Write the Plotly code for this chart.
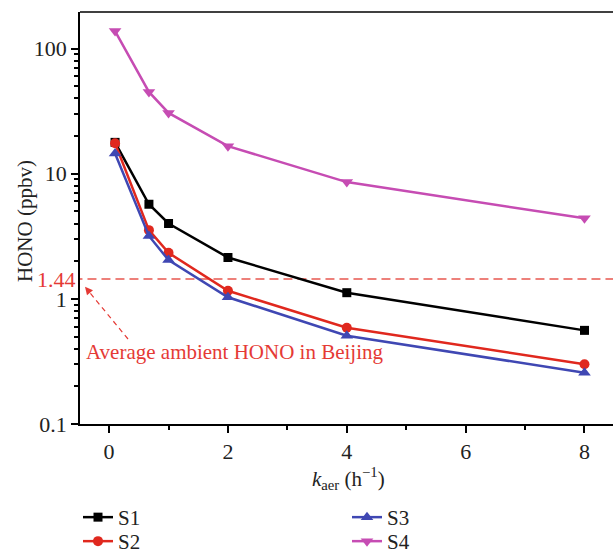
import plotly.graph_objects as go

k_aer = [0.1, 0.67, 1, 2, 4, 8]
s1 = [17.8, 5.7, 4.0, 2.14, 1.12, 0.56]
s2 = [17.5, 3.54, 2.33, 1.16, 0.587, 0.30]
s3 = [14.5, 3.18, 2.04, 1.03, 0.507, 0.257]
s4 = [138, 45, 30.6, 16.6, 8.57, 4.4]
ambient = 1.44

FONT = "Liberation Serif"
RED = "#e53a35"

W, H = 613, 552
L, R, T, B = 80, 0, 12, 128
pw, ph = W - L - R, H - T - B

# name, values, colour, symbol, size, legend id, legend left px, legend top px
series = [
    ("S1", s1, "black", "square", 9, "legend", 78, 497),
    ("S2", s2, "#e0281e", "circle", 10, "legend2", 78, 521),
    ("S3", s3, "#3f47b3", "triangle-up", 11, "legend3", 347, 497),
    ("S4", s4, "#c64cb3", "triangle-down", 11, "legend4", 347, 521),
]

fig = go.Figure()
fig.add_trace(go.Scatter(x=[-0.6, 8.6], y=[ambient, ambient], mode="lines",
                         line=dict(color="#e8574f", width=1.5, dash="9px,5px"),
                         showlegend=False, hoverinfo="skip"))
for name, vals, color, sym, size, lg, _, _ in series:
    fig.add_trace(go.Scatter(x=k_aer, y=vals, mode="lines+markers", name=name,
                             line=dict(color=color, width=2.5),
                             marker=dict(symbol=sym, size=size, color=color),
                             legend=lg))


def px(x):
    return (x - L) / pw


def py(y):
    return (H - B - y) / ph


tip = (85, 286.7)
tail = (128, 339)

fig.add_shape(type="line", xref="paper", yref="paper",
              x0=px(tail[0]), y0=py(tail[1]), x1=px(tip[0] + 4), y1=py(tip[1] + 5),
              line=dict(color=RED, width=1.2, dash="5px,4px"))
fig.add_annotation(xref="paper", yref="paper", x=px(tip[0]), y=py(tip[1]),
                   ax=5, ay=6, text="", showarrow=True, arrowhead=2, arrowsize=1.3,
                   arrowwidth=1.2, arrowcolor=RED)
fig.add_annotation(xref="paper", yref="paper", x=px(84), y=py(352),
                   xanchor="left", yanchor="middle", showarrow=False,
                   text="Average ambient HONO in Beijing",
                   font=dict(family=FONT, size=21, color=RED))
fig.add_annotation(xref="paper", yref="paper", x=px(78), y=py(279),
                   xanchor="right", yanchor="middle", showarrow=False,
                   text="1.44", font=dict(family=FONT, size=22, color=RED))
# axis titles
fig.add_annotation(xref="paper", yref="paper", x=px(25), y=py(221),
                   xanchor="center", yanchor="middle", showarrow=False, textangle=-90,
                   text="HONO (ppbv)", font=dict(family=FONT, size=21, color="#222"))
fig.add_annotation(xref="paper", yref="paper", x=px(348), y=py(478),
                   xanchor="center", yanchor="middle", showarrow=False,
                   text="<i>k</i><sub>aer</sub> (h<sup>−1</sup>)",
                   font=dict(family=FONT, size=21, color="#222"))
fig.add_shape(type="line", xref="paper", yref="paper", x0=0, x1=1, y0=1, y1=1,
              line=dict(color="black", width=1.5))

legends = {}
for name, _, _, _, _, lg, lx, ly in series:
    legends[lg] = dict(xref="container", yref="container", x=lx / W, y=1 - ly / H,
                       xanchor="left", yanchor="top",
                       font=dict(family=FONT, size=21), tracegroupgap=0,
                       bgcolor="rgba(0,0,0,0)")

fig.update_layout(
    width=W, height=H,
    margin=dict(l=L, r=R, t=T, b=B, autoexpand=False),
    plot_bgcolor="white", paper_bgcolor="white",
    font=dict(family=FONT, size=21, color="#222"),
    showlegend=True,
    **legends,
    xaxis=dict(range=[-0.49, 8.48], tickvals=[0, 2, 4, 6, 8], automargin=False,
               ticks="outside", ticklen=7, tickwidth=1.5, tickcolor="black",
               showline=True, linecolor="black", linewidth=1.5,
               showgrid=False, zeroline=False,
               minor=dict(tickvals=[1, 3, 5, 7], ticks="outside", ticklen=4,
                          tickwidth=1.5, tickcolor="black", showgrid=False),
               tickfont=dict(family=FONT, size=22)),
    yaxis=dict(type="log", range=[-1, 2.292], dtick=1, automargin=False,
               ticks="outside", ticklen=7, tickwidth=1.5, tickcolor="black",
               showline=True, linecolor="black", linewidth=1.5,
               showgrid=False, zeroline=False,
               minor=dict(ticks="outside", ticklen=4, tickwidth=1.5,
                          tickcolor="black", showgrid=False),
               tickfont=dict(family=FONT, size=22)),
)

fig.write_html("out.html", config={"displayModeBar": False},
               post_script="document.body.style.margin='0';document.body.style.padding='0';")
